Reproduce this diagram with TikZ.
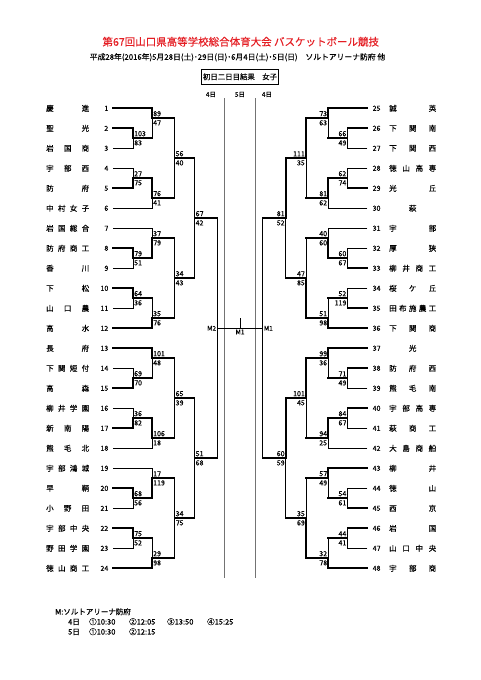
\documentclass[tikz,border=0pt]{standalone}
\usepackage{fontspec}
\setmainfont{Noto Sans CJK JP}[FakeBold=0.35]
\usepackage{tikz}
\usetikzlibrary{positioning}
\definecolor{titlered}{RGB}{228,30,36}

\newcommand{\spread}[2]{\makebox[#1][s]{\hfil\expandafter\spreadfirst#2\relax\hfil}}
\def\spreadfirst#1{#1\spreadrest}
\def\spreadrest#1{\ifx\relax#1\else\hfill#1\expandafter\spreadrest\fi}

\newcommand{\bout}[9]{%
  \path (c#9#2) ++(0,#5) coordinate (#1);
  \pgfmathtruncatemacro{\nxt}{#2+1}%
  \draw[top #6] (c#9#2 |- #3) -- (#1);
  \draw[bot #6] (#1) -- (c#9#2 |- #4);
  \draw[out #6] (#1) -- (c#9\nxt |- #1);
  \node[scup#9] (#1-u) at (#1) {#7};
  \node[scdn#9] (#1-d) at (#1) {#8};
}

\begin{document}
\begin{tikzpicture}[x=1pt, y=-1pt]
        \tikzset{win/.style={line width=1.8pt, line cap=rect}}
        \tikzset{lose/.style={line width=0.8pt, line cap=rect}}
        \tikzset{top t/.style=win, bot t/.style=lose, out t/.style=win}
        \tikzset{top b/.style=lose, bot b/.style=win, out b/.style=win}
        \tikzset{top n/.style=lose, bot n/.style=lose, out n/.style=lose}
        \tikzset{score/.style={font=\fontsize{7}{8}\selectfont, inner xsep=1pt, inner ysep=1.8pt}}
        \tikzset{scupL/.style={score, anchor=south west}, scdnL/.style={score, anchor=north west}}
        \tikzset{scupR/.style={score, anchor=south east}, scdnR/.style={score, anchor=north east}}
        \tikzset{team/.style={font=\fontsize{7.5}{9}\selectfont, inner sep=0pt}}
        \tikzset{num/.style={font=\fontsize{7}{8}\selectfont, inner ysep=0pt}}
        \tikzset{small/.style={font=\fontsize{6.5}{8}\selectfont, inner sep=1pt}}
        \tikzset{note/.style={font=\fontsize{7.5}{9}\selectfont, inner sep=0pt, anchor=west}}
        \tikzset{divider/.style={black!55, line width=0.6pt}}

        \useasboundingbox (0,0) rectangle (481,680);

        \node[font=\fontsize{10.5}{12}\selectfont, text=titlered] (title) at (240.8,41.7) {第67回山口県高等学校総合体育大会 バスケットボール競技};
        \node[font=\fontsize{7.8}{9}\selectfont] (date) at (237.5,57.3) {平成28年(2016年)5月28日(土)･29日(日)･6月4日(土)･5日(日)\quad ソルトアリーナ防府 他};
        \node[draw, line width=0.8pt, minimum width=76.6pt, minimum height=15pt, inner sep=0pt, font=\fontsize{7.4}{9}\selectfont] (head) at (240,76.8) {初日二日目結果　女子};

        \node[small] (d4a) at (211,94.5) {4日};
        \node[small] (d5) at (240,94.5) {5日};
        \node[small] (d4b) at (267,94.5) {4日};
        \draw[divider] (224.3,98) -- (224.3,578.3);
        \draw[divider] (255.7,98) -- (255.7,578.3);

        \coordinate (cL1) at (133,0);
        \coordinate (cL2) at (152,0);
        \coordinate (cL3) at (174.5,0);
        \coordinate (cL4) at (194.5,0);
        \coordinate (cL5) at (217.3,0);
        \coordinate (cL6) at (240,0);
        \coordinate (cR1) at (347.5,0);
        \coordinate (cR2) at (328.3,0);
        \coordinate (cR3) at (306,0);
        \coordinate (cR4) at (285.8,0);
        \coordinate (cR5) at (262.7,0);
        \coordinate (cR6) at (240,0);

        \foreach \n/\nm/\c/\w in {1/慶進/2/win, 2/聖光/1/win, 3/岩国商/1/lose, 4/宇部西/1/lose,
            5/防府/1/win, 6/中村女子/2/lose, 7/岩国総合/2/lose, 8/防府商工/1/win,
            9/香川/1/lose, 10/下松/1/win, 11/山口農/1/lose, 12/高水/2/win,
            13/長府/2/win, 14/下関短付/1/lose, 15/高森/1/win, 16/柳井学園/1/lose,
            17/新南陽/1/win, 18/熊毛北/2/lose, 19/宇部鴻城/2/lose, 20/早鞆/1/win,
            21/小野田/1/lose, 22/宇部中央/1/win, 23/野田学園/1/lose, 24/徳山商工/2/win}{
            \pgfmathsetmacro{\yy}{108.3+20*(\n-1)}
            \node[num, anchor=east, inner xsep=4.5pt] (t\n) at (113,\yy) {\n};
            \node[team, anchor=west] (n\n) at (46,\yy) {\spread{43pt}{\nm}};
            \draw[\w] (t\n.east) -- (cL\c |- t\n.east);
        }
        \foreach \n/\nm/\c/\w in {25/誠英/2/win, 26/下関南/1/win, 27/下関西/1/lose, 28/徳山高専/1/lose,
            29/光丘/1/win, 30/萩/2/lose, 31/宇部/2/lose, 32/厚狭/1/lose,
            33/柳井商工/1/win, 34/桜ケ丘/1/lose, 35/田布施農工/1/win, 36/下関商/2/win,
            37/光/2/win, 38/防府西/1/win, 39/熊毛南/1/lose, 40/宇部高専/1/win,
            41/萩商工/1/lose, 42/大島商船/2/lose, 43/柳井/2/win, 44/徳山/1/lose,
            45/西京/1/win, 46/岩国/1/win, 47/山口中央/1/lose, 48/宇部商/2/win}{
            \pgfmathsetmacro{\yy}{108.3+20*(\n-25)}
            \node[num, anchor=west, inner xsep=5.5pt] (t\n) at (367,\yy) {\n};
            \node[team, anchor=west] (n\n) at (389,\yy) {\spread{47pt}{\nm}};
            \draw[\w] (t\n.west) -- (cR\c |- t\n.west);
        }

        \bout{Lp1}{1}{t2}{t3}{138.3}{t}{103}{83}{L}
        \bout{Lg1}{2}{t1}{Lp1}{118.3}{t}{89}{47}{L}
        \bout{Lp2}{1}{t4}{t5}{178.3}{b}{27}{75}{L}
        \bout{Lg2}{2}{Lp2}{t6}{198.3}{t}{76}{41}{L}
        \bout{Lp3}{1}{t8}{t9}{258.3}{t}{79}{51}{L}
        \bout{Lg3}{2}{t7}{Lp3}{238.3}{b}{37}{79}{L}
        \bout{Lp4}{1}{t10}{t11}{298.3}{t}{64}{36}{L}
        \bout{Lg4}{2}{Lp4}{t12}{318.3}{b}{35}{76}{L}
        \bout{Lp5}{1}{t14}{t15}{378.3}{b}{69}{70}{L}
        \bout{Lg5}{2}{t13}{Lp5}{358.3}{t}{101}{48}{L}
        \bout{Lp6}{1}{t16}{t17}{418.3}{b}{36}{82}{L}
        \bout{Lg6}{2}{Lp6}{t18}{438.3}{t}{106}{18}{L}
        \bout{Lp7}{1}{t20}{t21}{498.3}{t}{68}{56}{L}
        \bout{Lg7}{2}{t19}{Lp7}{478.3}{b}{17}{119}{L}
        \bout{Lp8}{1}{t22}{t23}{538.3}{t}{75}{52}{L}
        \bout{Lg8}{2}{Lp8}{t24}{558.3}{b}{29}{98}{L}
        \bout{Lr1}{3}{Lg1}{Lg2}{158.3}{t}{56}{40}{L}
        \bout{Lr2}{3}{Lg3}{Lg4}{278.3}{b}{34}{43}{L}
        \bout{Lr3}{3}{Lg5}{Lg6}{398.3}{t}{65}{39}{L}
        \bout{Lr4}{3}{Lg7}{Lg8}{518.3}{b}{34}{75}{L}
        \bout{Ls1}{4}{Lr1}{Lr2}{218.3}{t}{67}{42}{L}
        \bout{Ls2}{4}{Lr3}{Lr4}{458.3}{b}{51}{68}{L}
        \bout{Lf}{5}{Ls1}{Ls2}{328.3}{n}{}{}{L}

        \bout{Rp1}{1}{t26}{t27}{138.3}{t}{66}{49}{R}
        \bout{Rg1}{2}{t25}{Rp1}{118.3}{t}{73}{63}{R}
        \bout{Rp2}{1}{t28}{t29}{178.3}{b}{62}{74}{R}
        \bout{Rg2}{2}{Rp2}{t30}{198.3}{t}{81}{62}{R}
        \bout{Rp3}{1}{t32}{t33}{258.3}{b}{60}{67}{R}
        \bout{Rg3}{2}{t31}{Rp3}{238.3}{b}{40}{60}{R}
        \bout{Rp4}{1}{t34}{t35}{298.3}{b}{52}{119}{R}
        \bout{Rg4}{2}{Rp4}{t36}{318.3}{b}{51}{98}{R}
        \bout{Rp5}{1}{t38}{t39}{378.3}{t}{71}{49}{R}
        \bout{Rg5}{2}{t37}{Rp5}{358.3}{t}{99}{36}{R}
        \bout{Rp6}{1}{t40}{t41}{418.3}{t}{84}{67}{R}
        \bout{Rg6}{2}{Rp6}{t42}{438.3}{t}{94}{25}{R}
        \bout{Rp7}{1}{t44}{t45}{498.3}{b}{54}{61}{R}
        \bout{Rg7}{2}{t43}{Rp7}{478.3}{t}{57}{49}{R}
        \bout{Rp8}{1}{t46}{t47}{538.3}{t}{44}{41}{R}
        \bout{Rg8}{2}{Rp8}{t48}{558.3}{b}{32}{78}{R}
        \bout{Rr1}{3}{Rg1}{Rg2}{158.3}{t}{111}{35}{R}
        \bout{Rr2}{3}{Rg3}{Rg4}{278.3}{b}{47}{85}{R}
        \bout{Rr3}{3}{Rg5}{Rg6}{398.3}{t}{101}{45}{R}
        \bout{Rr4}{3}{Rg7}{Rg8}{518.3}{b}{35}{69}{R}
        \bout{Rs1}{4}{Rr1}{Rr2}{218.3}{t}{81}{52}{R}
        \bout{Rs2}{4}{Rr3}{Rr4}{458.3}{t}{60}{59}{R}
        \bout{Rf}{5}{Rs1}{Rs2}{328.3}{n}{}{}{R}

        \coordinate (fin) at (cL6 |- Lf);
        \draw[lose] (fin) -- ++(0,-10);
        \node[small, anchor=east] (mL) at (Lf) {M2};
        \node[small, anchor=west] (mR) at (Rf) {M1};
        \node[small, anchor=north] (mF) at (fin) {M1};

        \node[note] (court) at (55,611.7) {M:ソルトアリーナ防府};
        \node[note] (day4) at (68,621.7) {\makebox[21pt][l]{4日}\makebox[40pt][l]{①10:30}\makebox[38pt][l]{②12:05}\makebox[40pt][l]{③13:50}④15:25};
        \node[note] (day5) at (68,631.7) {\makebox[21pt][l]{5日}\makebox[40pt][l]{①10:30}②12:15};
    \end{tikzpicture}
\end{document}
